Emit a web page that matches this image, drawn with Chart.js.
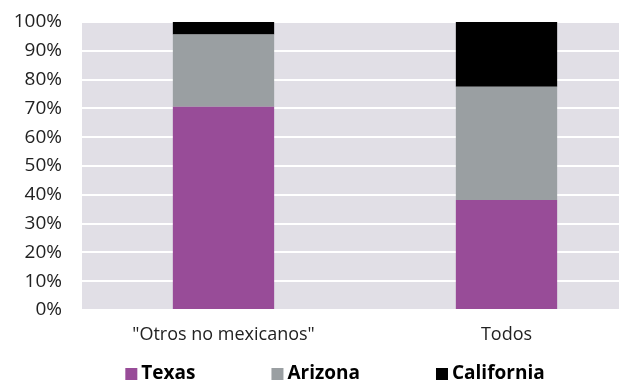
<!DOCTYPE html>
<html><head><meta charset="utf-8">
<script src="https://cdn.jsdelivr.net/npm/chart.js@4"></script>
<style>html,body{margin:0;padding:0;background:#fff;overflow:hidden;width:619px;height:380px}#wrap{width:670px;height:380px}</style>
</head><body><div id="wrap"><canvas id="c" width="670" height="380"></canvas></div>
<script>
const categories = ['"Otros no mexicanos"', 'Todos'];
const texas = [70.6, 38.2];
const arizona = [25.1, 39.3];
const california = [4.3, 22.5];
const yTicks = [0,10,20,30,40,50,60,70,80,90,100];

const FONT = '"Open Sans", "Noto Sans", sans-serif';

const bgPlugin = {
  id: 'bg',
  beforeDraw(chart){
    const {ctx, chartArea:a} = chart;
    ctx.save(); ctx.fillStyle = '#e1dfe6';
    ctx.fillRect(a.left, a.top, a.right - a.left, a.bottom - a.top);
    ctx.restore();
  }
};
const legendPlugin = {
  id: 'customLegend',
  afterDraw(chart){
    const ctx = chart.ctx;
    const ds = chart.data.datasets;
    ctx.save();
    ctx.font = 'bold 19px ' + FONT;
    ctx.textBaseline = 'middle';
    const box = 12, gap = 4, space = 76;
    const widths = ds.map(d => box + gap + ctx.measureText(d.label).width);
    const total = widths.reduce((s,w)=>s+w,0) + space*(ds.length-1);
    let x = chart.width/2 - total/2;
    const y = 374;
    ds.forEach((d,i) => {
      ctx.fillStyle = d.backgroundColor;
      ctx.fillRect(x, y - box/2, box, box);
      ctx.fillStyle = '#000';
      ctx.fillText(d.label, x + box + gap, y);
      x += widths[i] + space;
    });
    ctx.restore();
  }
};

new Chart(document.getElementById('c'), {
  type: 'bar',
  data: {
    labels: categories,
    datasets: [
      {label:'Texas', data: texas, backgroundColor:'#984c98'},
      {label:'Arizona', data: arizona, backgroundColor:'#9a9fa2'},
      {label:'California', data: california, backgroundColor:'#000000'}
    ]
  },
  options: {
    responsive:false, animation:false,
    layout:{padding:{top:22,right:22,bottom:30,left:0}},
    datasets:{bar:{barPercentage:0.358, categoryPercentage:1, borderWidth:0}},
    plugins:{legend:{display:false}, tooltip:{enabled:false}},
    scales:{
      x:{stacked:true,
        grid:{display:false, drawTicks:false}, border:{display:false},
        ticks:{color:'#222', font:{family:FONT, size:18}, padding:14, maxRotation:0},
        afterFit(s){ s.height = 40; s.paddingLeft = 0; s.paddingRight = 0; }
      },
      y:{stacked:true, min:0, max:100,
        afterBuildTicks(s){ s.ticks = yTicks.map(v=>({value:v})); },
        grid:{color:'#ffffff', lineWidth:2, drawTicks:false}, border:{display:false},
        ticks:{color:'#222', font:{family:FONT, size:19}, padding:20, callback:v=>v+'%'},
        afterFit(s){ s.width = 82; s.paddingTop = 0; s.paddingBottom = 0; }
      }
    }
  },
  plugins:[bgPlugin, legendPlugin]
});
</script></body></html>
